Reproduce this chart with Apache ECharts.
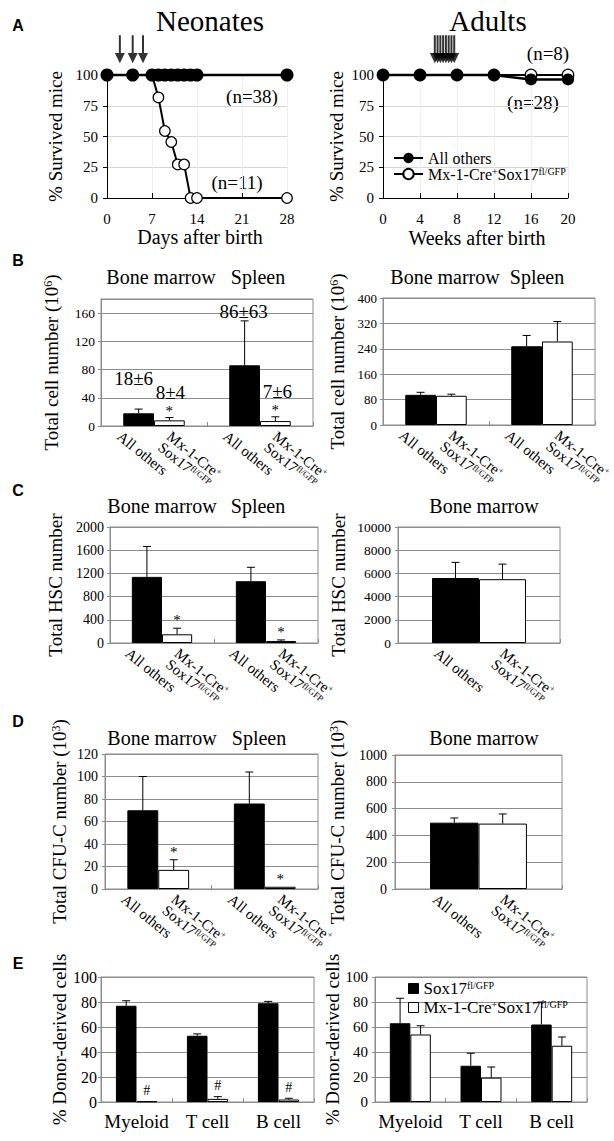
<!DOCTYPE html>
<html><head><meta charset="utf-8">
<script src="https://cdn.jsdelivr.net/npm/echarts@6/dist/echarts.min.js"></script>
<style>html,body{margin:0;padding:0;background:#fff}#c{width:614px;height:1141px}</style>
</head><body><div id="c"></div>
<script>
// ================= DATA =================
// Panel A – survival
const neoDays        = [0, 4, 7, 8, 9, 10, 11, 12, 13, 14, 28];
const neoAllOthers   = [100, 100, 100, 100, 100, 100, 100, 100, 100, 100, 100];
const neoMx          = [100, 100, 100, 81.8, 54.5, 45.5, 27.3, 27.3, 0, 0, 0];
const neoInjectDays  = [2, 4, 5.6];
const adultWeeks     = [0, 4, 8, 12, 16, 20];
const adultAllOthers = [100, 100, 100, 100, 96.4, 96.4];
const adultMx        = [100, 100, 100, 100, 100, 100];
const adultInjectWks = [5.6, 5.9, 6.2, 6.5, 6.8, 7.1, 7.4, 7.7];
const neoDayTicks    = [0, 7, 14, 21, 28];
const adultWeekTicks = [0, 4, 8, 12, 16, 20];
const survTicks      = [0, 25, 50, 75, 100];
const neoN   = ['(n=38)', '(n=11)'];
const adultN = ['(n=8)', '(n=28)'];

// Categories
const organCats   = ['Bone marrow', 'Spleen'];
const bmCats      = ['Bone marrow'];
const lineageCats = ['Myeloid', 'T cell', 'B cell'];
const groupLabels = ['All others', 'Mx-1-Cre{sup|+}\nSox17{sup|fl/GFP}'];

// Panel B – total cell number (10^6)
const neoCellAll = [18, 86],   neoCellAllErr = [6, 63];
const neoCellMx  = [8, 7],     neoCellMxErr  = [4, 6];
const adCellAll  = [95, 248],  adCellAllErr  = [8, 34];
const adCellMx   = [92, 263],  adCellMxErr   = [5, 63];
const neoCellTicks = [0, 40, 80, 120, 160];
const adCellTicks  = [0, 80, 160, 240, 320, 400];

// Panel C – total HSC number
const neoHscAll = [1140, 1065], neoHscAllErr = [525, 240];
const neoHscMx  = [150, 35],    neoHscMxErr  = [105, 18];
const adHscAll  = [5600],       adHscAllErr  = [1350];
const adHscMx   = [5500],       adHscMxErr   = [1300];
const neoHscTicks = [0, 400, 800, 1200, 1600, 2000];
const adHscTicks  = [0, 2000, 4000, 6000, 8000, 10000];

// Panel D – total CFU-C number (10^3)
const neoCfuAll = [70, 76], neoCfuAllErr = [30, 28];
const neoCfuMx  = [17, 2],  neoCfuMxErr  = [9, 0];
const adCfuAll  = [495],    adCfuAllErr  = [35];
const adCfuMx   = [488],    adCfuMxErr   = [72];
const neoCfuTicks = [0, 20, 40, 60, 80, 100, 120];
const adCfuTicks  = [0, 200, 400, 600, 800, 1000];

// Panel E – % donor-derived cells
const neoDonorSox = [77, 53, 79],  neoDonorSoxErr = [4, 1.5, 1.5];
const neoDonorMx  = [0.3, 2.5, 2], neoDonorMxErr  = [0, 1.8, 1];
const adDonorSox  = [63, 29, 62],  adDonorSoxErr  = [20, 10, 18];
const adDonorMx   = [54, 19.5, 45], adDonorMxErr  = [7, 8.5, 7];
const donorTicks  = [0, 20, 40, 60, 80, 100];

// ================= STYLE / LAYOUT =================
const SERIF = 'Liberation Serif', SANS = 'Liberation Sans';
const GRAY = '#8c8c8c';
const BAR_FRAC = 0.29;
const ROT = 0.68;
const ARROW_Y = 121;
const ALL_NAME = 'All others', MX_NAME = 'Mx-1-Cre+Sox17fl/GFP';
const SUP = {fontSize: 10, fontFamily: SERIF, verticalAlign: 'top', color: '#000'};
const plain = v => String(v);

const option = {animation: false, backgroundColor: '#fff', grid: [], xAxis: [], yAxis: [], series: [], graphic: [], legend: []};

function addGrid(g) { option.grid.push(g); return option.grid.length - 1; }

function txt(x, y, text, size, extra) {
  return Object.assign({type: 'text', x: x, y: y, silent: true, style: Object.assign({
    text: text, fontSize: size, fontFamily: SERIF, fill: '#000', textFill: '#000',
    align: 'center', textAlign: 'center', verticalAlign: 'middle', textVerticalAlign: 'middle'
  }, extra || {})});
}

// ---------- survival panels ----------
function survivalPanel(rect, xTicks, xs, allVals, mxVals, arrows, nameGap, sizes) {
  const k = addGrid(Object.assign({show: false}, rect));
  option.xAxis.push({type: 'value', gridIndex: k, min: xTicks[0], max: xTicks[xTicks.length - 1],
    interval: xTicks[1] - xTicks[0],
    axisLine: {lineStyle: {color: '#000', width: 1}},
    axisTick: {inside: true, length: 5, lineStyle: {color: '#000'}},
    axisLabel: {color: '#000', fontFamily: SERIF, fontSize: 15, margin: 13, formatter: plain},
    splitLine: {show: true, lineStyle: {color: '#eeeeee'}}});
  option.yAxis.push({type: 'value', gridIndex: k, min: survTicks[0], max: survTicks[survTicks.length - 1],
    interval: survTicks[1] - survTicks[0],
    axisLine: {show: true, lineStyle: {color: '#000'}},
    axisTick: {show: true, length: 4, lineStyle: {color: '#000'}},
    axisLabel: {color: '#000', fontFamily: SERIF, fontSize: 15, margin: 9, formatter: plain},
    splitLine: {show: true, lineStyle: {color: '#d6d6d6'}},
    name: '% Survived mice', nameLocation: 'middle', nameRotate: 90, nameGap: nameGap,
    nameTextStyle: {fontFamily: SERIF, fontSize: 19, color: '#000'}});
  option.series.push({type: 'line', name: MX_NAME, xAxisIndex: k, yAxisIndex: k, clip: false, z: 2,
    data: xs.map((x, i) => [x, mxVals[i]]), symbol: 'circle', symbolSize: sizes[1],
    lineStyle: {color: '#000', width: 2}, itemStyle: {color: '#fff', borderColor: '#000', borderWidth: 1.2}});
  option.series.push({type: 'line', name: ALL_NAME, xAxisIndex: k, yAxisIndex: k, clip: false, z: 3,
    data: xs.map((x, i) => [x, allVals[i]]), symbol: 'circle', symbolSize: sizes[0],
    lineStyle: {color: '#000', width: 2.5}, itemStyle: {color: '#000'}});
  option.series.push({type: 'scatter', name: 'injections' + k, xAxisIndex: k, yAxisIndex: k, clip: false, z: 4,
    silent: true, data: arrows.map(x => [x, ARROW_Y]),
    symbol: 'path://M4,0 L6,0 L6,19 L10,19 L5,30 L0,19 L4,19 Z', symbolSize: [10, 28],
    itemStyle: {color: '#000'}});
}

survivalPanel({left: 107, top: 75, width: 180, height: 123}, neoDayTicks, neoDays, neoAllOthers, neoMx, neoInjectDays, 42, [13, 10.5]);
survivalPanel({left: 383, top: 75, width: 185, height: 123}, adultWeekTicks, adultWeeks, adultAllOthers, adultMx, adultInjectWks, 37, [12, 11.5]);

option.legend.push({left: 388, top: 145, orient: 'vertical', itemGap: 0, itemWidth: 29, itemHeight: 13,
  selectedMode: false, data: [ALL_NAME, MX_NAME],
  formatter: n => n === ALL_NAME ? groupLabels[0] : 'Mx-1-Cre{sup|+}Sox17{sup|fl/GFP}',
  textStyle: {fontFamily: SERIF, fontSize: 16, color: '#000', lineHeight: 15, rich: {sup: SUP}}});

// ---------- bar panels ----------
function makeRender(cfg) {
  return function (params, api) {
    const ci = api.value(0), v = api.value(1), e = api.value(2), g = api.value(3);
    const base = api.coord([ci, 0]);
    const band = api.size([1, 0])[0];
    const bw = band * BAR_FRAC;
    const cx = base[0] + (g === 0 ? -bw / 2 : bw / 2);
    const y0 = base[1];
    const yv = api.coord([ci, v])[1];
    const ye = api.coord([ci, v + e])[1];
    const kids = [];
    if (e > 0) {
      kids.push({type: 'line', shape: {x1: cx, y1: yv, x2: cx, y2: ye}, style: {stroke: '#000', lineWidth: 1}});
      kids.push({type: 'line', shape: {x1: cx - 4, y1: ye, x2: cx + 4, y2: ye}, style: {stroke: '#000', lineWidth: 1}});
    }
    const mark = cfg.marks ? cfg.marks[g][ci] : '';
    if (mark) kids.push(txt(cx, ye - cfg.markGap, mark, cfg.markSize));
    if (cfg.valueOffsets) {
      const vals = g === 0 ? cfg.a : cfg.m, errs = g === 0 ? cfg.ae : cfg.me;
      const off = cfg.valueOffsets[g][ci];
      kids.push(txt(cx + off[0], ye + off[1], vals[ci] + '±' + errs[ci], 19));
    }
    if (cfg.rot) {
      kids.push({type: 'text', x: cx + (g === 0 ? -15 : 4), y: y0 + 3, rotation: -ROT, silent: true,
        style: {text: groupLabels[g], fontSize: 15, fontFamily: SERIF, fill: '#000', textFill: '#000', lineHeight: 14,
          align: 'left', textAlign: 'left', verticalAlign: 'top', textVerticalAlign: 'top',
          rich: {sup: {fontSize: 9, fontFamily: SERIF, verticalAlign: 'top', lineHeight: 14, fill: '#000', textFill: '#000'}}}});
    }
    return {type: 'group', children: kids};
  };
}

function barPanel(cfg) {
  const k = addGrid(Object.assign({show: true, borderColor: GRAY, borderWidth: 1}, cfg.rect));
  const t = cfg.ticks;
  option.xAxis.push({type: 'category', gridIndex: k, data: cfg.cats,
    axisLine: {lineStyle: {color: GRAY}},
    axisTick: {show: true, inside: true, length: 4, interval: 0, lineStyle: {color: GRAY}},
    axisLabel: cfg.xLabels ? {show: true, interval: 0, fontFamily: SERIF, fontSize: 19, color: '#000', margin: 10} : {show: false},
    splitLine: {show: false}});
  option.yAxis.push({type: 'value', gridIndex: k, min: t[0], max: cfg.yMax || t[t.length - 1], interval: t[1] - t[0],
    axisLine: {show: true, lineStyle: {color: GRAY}},
    axisTick: {show: true, length: 3, lineStyle: {color: GRAY}},
    axisLabel: {color: '#000', fontFamily: SERIF, fontSize: cfg.tickFont, margin: cfg.labelMargin, showMaxLabel: !cfg.yMax, formatter: plain},
    splitLine: {show: true, lineStyle: {color: GRAY}},
    name: cfg.yName, nameLocation: 'middle', nameRotate: 90, nameGap: cfg.nameGap,
    nameTextStyle: {fontFamily: SERIF, fontSize: 19, color: '#000', rich: {sup: {fontSize: 12, fontFamily: SERIF, verticalAlign: 'top'}}}});
  option.series.push({type: 'bar', name: cfg.names[0], xAxisIndex: k, yAxisIndex: k, data: cfg.a,
    barWidth: (BAR_FRAC * 100) + '%', barGap: '0%', itemStyle: {color: '#000', borderColor: '#000', borderWidth: 1}});
  option.series.push({type: 'bar', name: cfg.names[1], xAxisIndex: k, yAxisIndex: k, data: cfg.m,
    barWidth: (BAR_FRAC * 100) + '%', barGap: '0%', barMinHeight: 0.6,
    itemStyle: {color: '#fff', borderColor: '#000', borderWidth: 1}});
  const data = [];
  [0, 1].forEach(g => cfg.cats.forEach((c, i) => {
    data.push([i, g === 0 ? cfg.a[i] : cfg.m[i], g === 0 ? cfg.ae[i] : cfg.me[i], g]);
  }));
  option.series.push({type: 'custom', name: 'err' + k, xAxisIndex: k, yAxisIndex: k, z: 5, silent: true,
    encode: {x: 0, y: 1}, data: data, renderItem: makeRender(cfg)});
}

barPanel({rect: {left: 101, top: 299, width: 212, height: 127}, cats: organCats,
  a: neoCellAll, ae: neoCellAllErr, m: neoCellMx, me: neoCellMxErr, names: ['bLa', 'bLm'],
  ticks: neoCellTicks, yMax: 180, yName: 'Total cell number (10{sup|6})', nameGap: 40, tickFont: 13.5, labelMargin: 6,
  rot: true, marks: [['', ''], ['*', '*']], markGap: 7, markSize: 15,
  valueOffsets: [[[-5, -31], [-1, -9]], [[1, -25], [2, -25]]]});
barPanel({rect: {left: 383, top: 298, width: 212, height: 127}, cats: organCats,
  a: adCellAll, ae: adCellAllErr, m: adCellMx, me: adCellMxErr, names: ['bRa', 'bRm'],
  ticks: adCellTicks, yName: 'Total cell number (10{sup|6})', nameGap: 36, tickFont: 13, labelMargin: 6, rot: true});
barPanel({rect: {left: 110, top: 527, width: 208, height: 116}, cats: organCats,
  a: neoHscAll, ae: neoHscAllErr, m: neoHscMx, me: neoHscMxErr, names: ['cLa', 'cLm'],
  ticks: neoHscTicks, yName: 'Total HSC number', nameGap: 45, tickFont: 14, labelMargin: 6,
  rot: true, marks: [['', ''], ['*', '*']], markGap: 8, markSize: 15});
barPanel({rect: {left: 398, top: 527, width: 162, height: 116}, cats: bmCats,
  a: adHscAll, ae: adHscAllErr, m: adHscMx, me: adHscMxErr, names: ['cRa', 'cRm'],
  ticks: adHscTicks, yName: 'Total HSC number', nameGap: 50, tickFont: 13.5, labelMargin: 7, rot: true});
barPanel({rect: {left: 105, top: 754, width: 213, height: 135}, cats: organCats,
  a: neoCfuAll, ae: neoCfuAllErr, m: neoCfuMx, me: neoCfuMxErr, names: ['dLa', 'dLm'],
  ticks: neoCfuTicks, yName: 'Total CFU-C number (10{sup|3})', nameGap: 36, tickFont: 14, labelMargin: 7,
  rot: true, marks: [['', ''], ['*', '*']], markGap: 8, markSize: 15});
barPanel({rect: {left: 395, top: 755, width: 167, height: 134}, cats: bmCats,
  a: adCfuAll, ae: adCfuAllErr, m: adCfuMx, me: adCfuMxErr, names: ['dRa', 'dRm'],
  ticks: adCfuTicks, yName: 'Total CFU-C number (10{sup|3})', nameGap: 48, tickFont: 14, labelMargin: 8, rot: true});
barPanel({rect: {left: 101, top: 977, width: 213, height: 125}, cats: lineageCats,
  a: neoDonorSox, ae: neoDonorSoxErr, m: neoDonorMx, me: neoDonorMxErr, names: ['eLa', 'eLm'],
  ticks: donorTicks, yName: '% Donor-derived cells', nameGap: 32, tickFont: 16, labelMargin: 4,
  xLabels: true, marks: [['', '', ''], ['#', '#', '#']], markGap: 11, markSize: 14});
barPanel({rect: {left: 375, top: 977, width: 212, height: 125}, cats: lineageCats,
  a: adDonorSox, ae: adDonorSoxErr, m: adDonorMx, me: adDonorMxErr, names: ['eSox', 'eMx'],
  ticks: donorTicks, yName: '% Donor-derived cells', nameGap: 32, tickFont: 15, labelMargin: 7, xLabels: true});

option.legend.push({left: 403, top: 975, orient: 'vertical', itemGap: 2, itemWidth: 10, itemHeight: 10,
  icon: 'rect', selectedMode: false, data: ['eSox', 'eMx'],
  formatter: n => n === 'eSox' ? 'Sox17{sup|fl/GFP}' : 'Mx-1-Cre{sup|+}Sox17{sup|fl/GFP}',
  itemStyle: {borderColor: '#000', borderWidth: 1},
  textStyle: {fontFamily: SERIF, fontSize: 17, color: '#000', lineHeight: 16, rich: {sup: SUP}}});

// ---------- texts ----------
const g = option.graphic;
[['A', 25], ['B', 260], ['C', 490], ['D', 721], ['E', 963]].forEach(p =>
  g.push(txt(18, p[1], p[0], 16, {fontFamily: SANS, fontWeight: 'bold'})));
g.push(txt(210, 21, 'Neonates', 29));
g.push(txt(488, 21, 'Adults', 29));
g.push(txt(200, 237, 'Days after birth', 20));
g.push(txt(477, 238, 'Weeks after birth', 20));
g.push(txt(252, 96, neoN[0], 19));
g.push(txt(237, 182, neoN[1], 19));
g.push(txt(548, 53, adultN[0], 19));
g.push(txt(533, 102, adultN[1], 19));
[[161, 277, 0], [258, 277, 1], [445, 277, 0], [537, 277, 1],
 [162, 506, 0], [258, 506, 1], [484, 506, 0],
 [162, 738, 0], [259, 738, 1], [484, 738, 0]].forEach(s => g.push(txt(s[0], s[1], organCats[s[2]], 20)));

const chart = echarts.init(document.getElementById('c'), null, {renderer: 'svg'});
chart.setOption(option);
</script></body></html>
